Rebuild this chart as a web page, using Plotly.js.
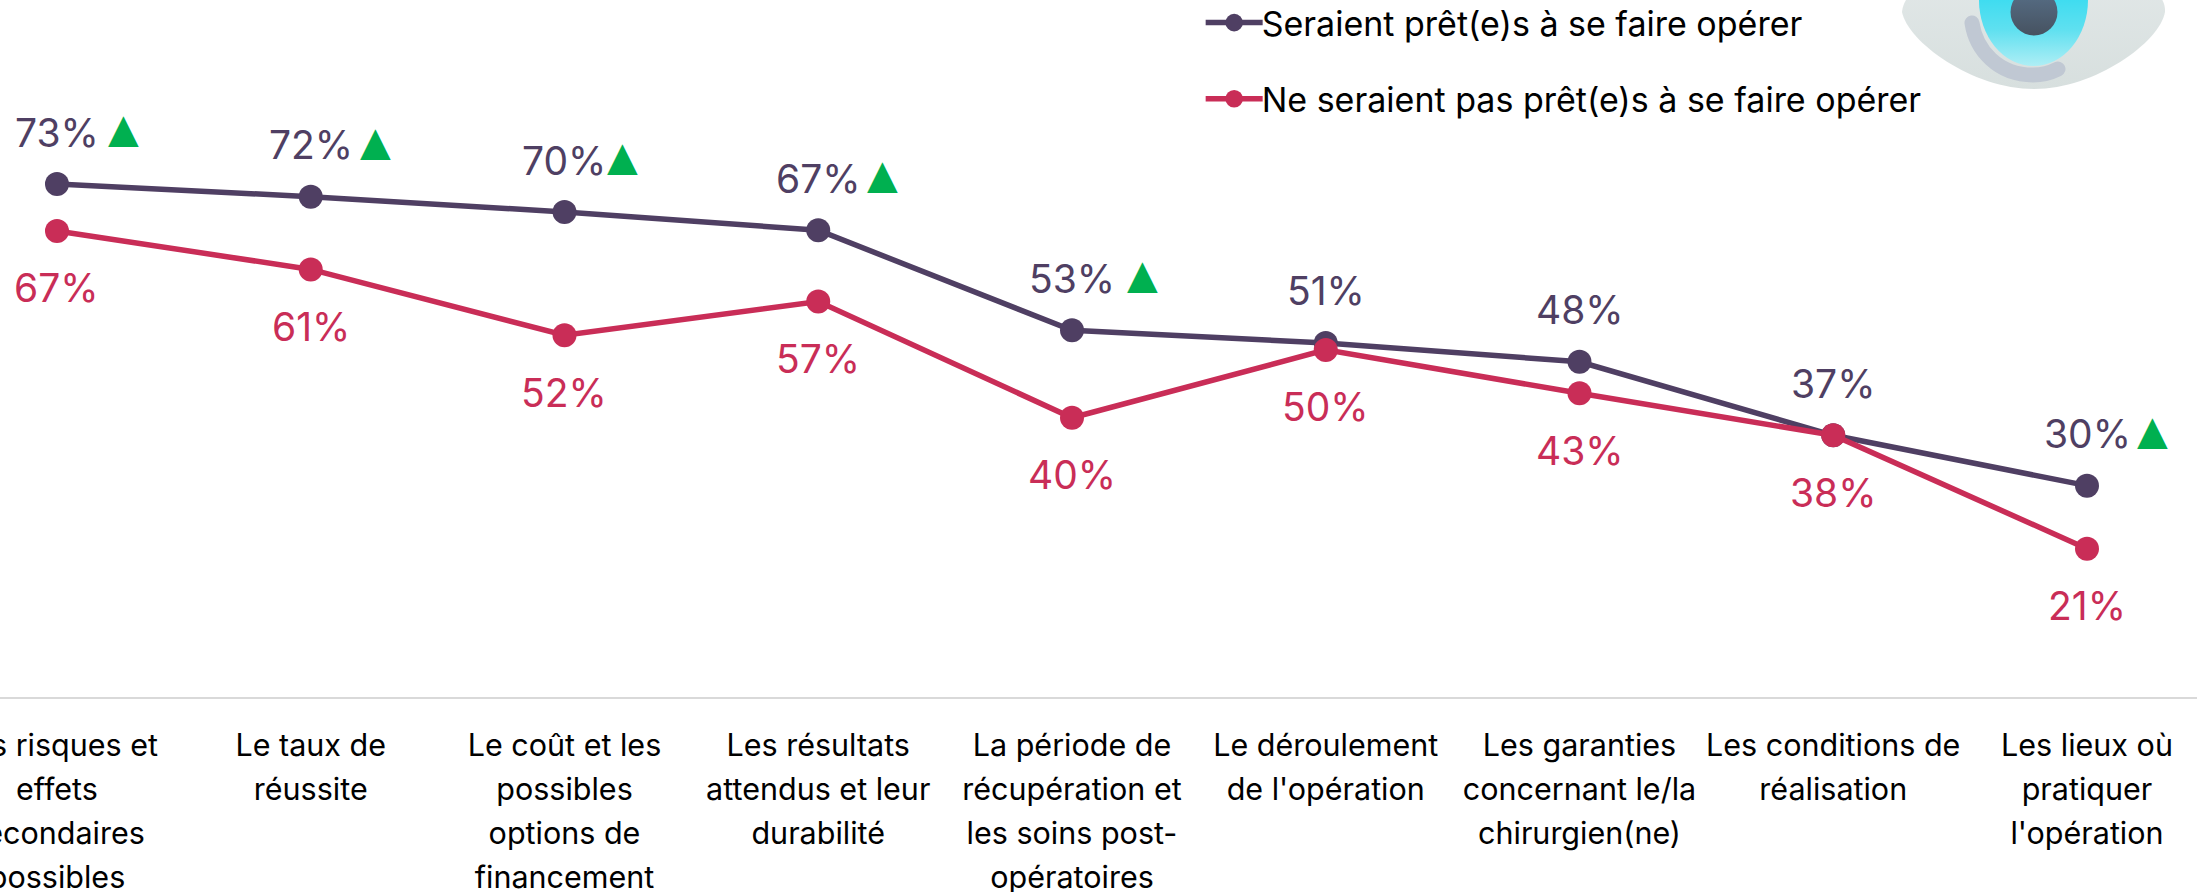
<!DOCTYPE html>
<html><head><meta charset="utf-8">
<script src="https://cdn.plot.ly/plotly-3.0.1.min.js"></script>
<style>html,body{margin:0;padding:0;background:#fff;overflow:hidden}</style>
</head><body><div id="chart" style="width:2197px;height:892px"></div>
<script>
const categories = [
  "Les risques et<br>effets<br>secondaires<br>possibles",
  "Le taux de<br>réussite",
  "Le coût et les<br>possibles<br>options de<br>financement",
  "Les résultats<br>attendus et leur<br>durabilité",
  "La période de<br>récupération et<br>les soins post-<br>opératoires",
  "Le déroulement<br>de l'opération",
  "Les garanties<br>concernant le/la<br>chirurgien(ne)",
  "Les conditions de<br>réalisation",
  "Les lieux où<br>pratiquer<br>l'opération"
];
const seriesA = "Seraient prêt(e)s à se faire opérer";
const seriesB = "Ne seraient pas prêt(e)s à se faire opérer";
const valuesA = [73.3, 71.5, 69.3, 66.7, 52.4, 50.6, 47.9, 37.4, 30.2];
const valuesB = [66.6, 61.1, 51.7, 56.5, 39.9, 49.6, 43.4, 37.4, 21.2];
const labelsA = ["73%","72%","70%","67%","53%","51%","48%","37%","30%"];
const labelsB = ["67%","61%","52%","57%","40%","50%","43%","38%","21%"];
const arrowOffsets = [67, 65, 58, 64, 70, null, null, null, 65];
const colorA = "#4f3f63", colorB = "#c92d57";
const FONT = "Inter, 'Noto Sans', sans-serif";

const eye = `<svg xmlns="http://www.w3.org/2000/svg" width="290" height="100" viewBox="0 0 290 100">
<defs>
<linearGradient id="s" x1="0" y1="0" x2="0" y2="1"><stop offset="0" stop-color="#e2e8e8"/><stop offset="1" stop-color="#d7dfde"/></linearGradient>
<linearGradient id="i" gradientUnits="userSpaceOnUse" x1="0" y1="0" x2="0" y2="66"><stop offset="0" stop-color="#3fdcf0"/><stop offset="0.45" stop-color="#5fe0f0"/><stop offset="1" stop-color="#aeeef5"/></linearGradient>
<linearGradient id="p" x1="0" y1="0" x2="0" y2="1"><stop offset="0" stop-color="#587089"/><stop offset="1" stop-color="#465260"/></linearGradient>
</defs>
<path d="M12,12 C14,-10 40,-30 144,-30 C250,-30 276,-10 275,12 C270,42 205,89 144,89 C82,89 18,42 12,12 Z" fill="url(#s)"/>
<ellipse cx="143.500" cy="0" rx="54.500" ry="66" fill="url(#i)"/>
<path d="M82,23 C86,50 108,75 143,75 C152,75 160,73 168,69" fill="none" stroke="#c0c8d3" stroke-width="15" stroke-linecap="round"/>
<ellipse cx="144" cy="12" rx="23.500" ry="23.500" fill="url(#p)"/>
</svg>`;

const data = [
  {x:categories, y:valuesA, name:seriesA, type:"scatter", mode:"lines+markers", legendgroup:"a",
   line:{color:colorA,width:5.5}, marker:{color:colorA,size:24}, cliponaxis:false},
  {x:categories, y:valuesB, name:seriesB, type:"scatter", mode:"lines+markers", legendgroup:"b",
   line:{color:colorB,width:5.5}, marker:{color:colorB,size:24}, cliponaxis:false}
];
const annotations = [];
categories.forEach((c,i)=>{
  annotations.push({x:c,y:valuesA[i],xref:"x",yref:"y",text:labelsA[i],showarrow:false,yshift:52,font:{family:FONT,size:39,color:colorA}});
  annotations.push({x:c,y:valuesB[i],xref:"x",yref:"y",text:labelsB[i],showarrow:false,yshift:-57,font:{family:FONT,size:39,color:colorB}});
  if(arrowOffsets[i]!==null) annotations.push({x:c,y:valuesA[i],xref:"x",yref:"y",text:"▲",showarrow:false,yshift:56,xshift:arrowOffsets[i],font:{family:"DejaVu Sans",size:40,color:"#00b050"}});
});
const layout = {
  width:2197,height:892,margin:{l:0,r:0,t:0,b:195,pad:0},
  paper_bgcolor:"#fff",plot_bgcolor:"#fff",
  xaxis:{type:"category",categoryorder:"array",categoryarray:categories,range:[-0.2246,8.4335],
    showgrid:false,zeroline:false,showline:true,linecolor:"#d9d9d9",linewidth:2,ticks:"",ticklen:0,ticklabelstandoff:20,
    tickangle:0,automargin:false,tickfont:{family:FONT,size:30.5,color:"#000"}},
  yaxis:{visible:false,range:[0,99.6],fixedrange:true},
  showlegend:true,
  legend:{x:0.5465,xanchor:"left",y:1,yanchor:"top",orientation:"v",bgcolor:"rgba(0,0,0,0)",
    font:{family:FONT,size:34,color:"#000"},itemwidth:57,tracegroupgap:29,itemclick:false,itemdoubleclick:false},
  annotations,
  images:[{source:"data:image/svg+xml;charset=utf-8,"+encodeURIComponent(eye),xref:"paper",yref:"paper",
    x:1890/2197,y:1,sizex:290/2197,sizey:100/697,sizing:"stretch",xanchor:"left",yanchor:"top",layer:"above"}]
};
Plotly.newPlot("chart",data,layout,{displayModeBar:false,staticPlot:true}).then(()=>{
  document.querySelectorAll(".xtick text").forEach(t=>{
    t.querySelectorAll("tspan.line").forEach((s,i)=>s.setAttribute("dy",(i*44/30.5)+"em"));
  });
  const lg = document.querySelector(".legend");
  const m = /translate\(([-\d.]+),\s*([-\d.]+)\)/.exec(lg.getAttribute("transform"));
  lg.setAttribute("transform",`translate(${m[1]},${parseFloat(m[2])-6})`);
  const clip = lg.querySelector(".scrollbox");
  if(clip) clip.removeAttribute("clip-path");
  lg.removeAttribute("clip-path");
  lg.querySelectorAll("text.legendtext").forEach(t=>{
    const nx = parseFloat(t.getAttribute("x"))-6;
    t.setAttribute("x",nx);
    t.querySelectorAll("tspan").forEach(s=>{ if(s.hasAttribute("x")) s.setAttribute("x",nx); });
  });
  lg.querySelectorAll(".legendpoints path.scatterpts").forEach(p=>p.setAttribute("transform",(p.getAttribute("transform")||"")+" scale(1.1)"));
});
</script></body></html>
